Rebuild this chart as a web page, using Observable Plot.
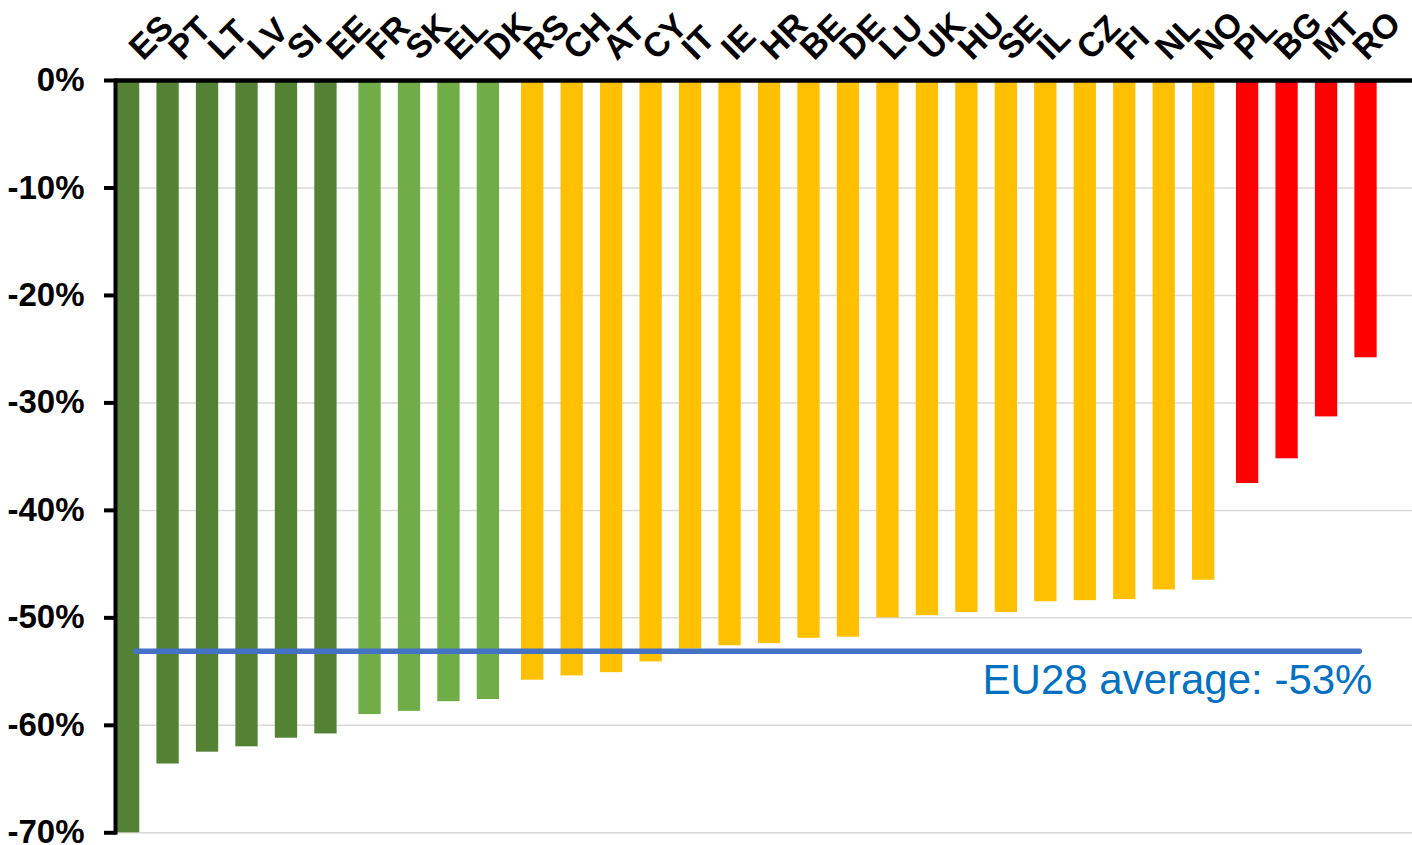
<!DOCTYPE html>
<html>
<head>
<meta charset="utf-8">
<script src="https://cdn.jsdelivr.net/npm/d3@7"></script>
<script src="https://cdn.jsdelivr.net/npm/@observablehq/plot@0.6"></script>
<style>
  html, body { margin: 0; padding: 0; background: #fff; }
  #chart svg { display: block; }
</style>
</head>
<body>
<div id="chart"></div>
<script>
// ---- data ----
const countries = ["ES","PT","LT","LV","SI","EE","FR","SK","EL","DK","RS","CH","AT","CY","IT","IE","HR","BE","DE","LU","UK","HU","SE","IL","CZ","FI","NL","NO","PL","BG","MT","RO"];
const values = [-70.0,-63.6,-62.5,-62.0,-61.2,-60.8,-59.0,-58.7,-57.8,-57.6,-55.8,-55.4,-55.1,-54.1,-52.9,-52.6,-52.4,-51.9,-51.8,-50.0,-49.8,-49.5,-49.5,-48.5,-48.4,-48.3,-47.4,-46.5,-37.5,-35.2,-31.3,-25.8];
const groups = ["dark","dark","dark","dark","dark","dark","light","light","light","light","mid","mid","mid","mid","mid","mid","mid","mid","mid","mid","mid","mid","mid","mid","mid","mid","mid","mid","red","red","red","red"];
const groupNames = ["dark","light","mid","red"];
const groupColors = ["#548235","#70AD47","#FFC000","#FF0000"];
const yTicks = [0,-10,-20,-30,-40,-50,-60,-70];
const yTickLabels = ["0%","-10%","-20%","-30%","-40%","-50%","-60%","-70%"];
const average = -53.1;
const averageLabel = "EU28 average: -53%";

// ---- build ----
const data = countries.map((c, i) => ({country: c, value: values[i], group: groups[i]}));
const groupShift = {dark: 0, light: 4.6, mid: 9.4, red: 13.85};
const font = "'Liberation Sans', Arial, Helvetica, sans-serif";
const last = countries[countries.length - 1];

const chart = Plot.plot({
  width: 1412,
  height: 845,
  marginLeft: 115,
  marginRight: 0,
  marginTop: 80,
  marginBottom: 12.7,
  style: {fontFamily: font, background: "#fff", overflow: "visible", color: "#000"},
  x: {type: "band", domain: countries, paddingInner: 0.435, paddingOuter: 0.6476, align: 0.0381, round: false, axis: null},
  y: {domain: [-70, 0]},
  marks: [
    Plot.ruleY(yTicks.filter(t => t !== 0), {stroke: "#D9D9D9", strokeWidth: 1.5}),
    ...groupNames.map((g, gi) =>
      Plot.barY(data.filter(d => d.group === g), {x: "country", y: "value", fill: groupColors[gi], dx: groupShift[g]})
    ),
    Plot.lineY([countries[0], last], {x: d => d, y: () => average, stroke: "#4472C4", strokeWidth: 5.5, strokeLinecap: "round", dx: 7.1}),
    Plot.text([averageLabel], {x: () => last, y: () => average, text: d => d, textAnchor: "end", lineAnchor: "bottom", dx: 20.3, dy: 43.3, fill: "#0070C0", fontSize: 42}),
    Plot.ruleY([0], {stroke: "#000", strokeWidth: 4.5}),
    Plot.frame({anchor: "left", stroke: "#000", strokeWidth: 4}),
    Plot.axisY({ticks: yTicks, tickFormat: t => yTickLabels[yTicks.indexOf(t)], tickSize: 11, tickPadding: 20, strokeWidth: 4, fontSize: 33, fontWeight: "bold", label: null, fill: "#000"}),
    Plot.text(countries, {x: d => d, frameAnchor: "top", rotate: -45, textAnchor: "start", lineAnchor: "bottom", dx: 14.5, dy: -19, fontSize: 34, fontWeight: "bold", fill: "#000"})
  ]
});
document.getElementById("chart").appendChild(chart);
</script>
</body>
</html>
